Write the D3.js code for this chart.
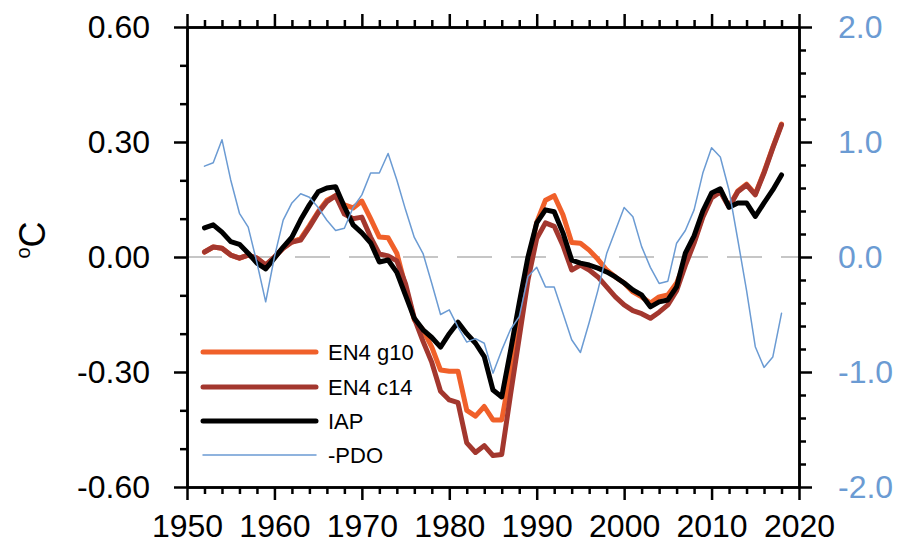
<!DOCTYPE html>
<html><head><meta charset="utf-8">
<script src="https://cdn.jsdelivr.net/npm/d3@7"></script>
<style>body{margin:0;background:#fff}svg{display:block}</style>
</head><body><svg id="c" width="897" height="548"></svg>
<script>
const years = [1952,1953,1954,1955,1956,1957,1958,1959,1960,1961,1962,1963,1964,1965,1966,1967,1968,1969,1970,1971,1972,1973,1974,1975,1976,1977,1978,1979,1980,1981,1982,1983,1984,1985,1986,1987,1988,1989,1990,1991,1992,1993,1994,1995,1996,1997,1998,1999,2000,2001,2002,2003,2004,2005,2006,2007,2008,2009,2010,2011,2012,2013,2014,2015,2016,2017,2018];
const en4g10 = [0.013,0.026,0.023,0.005,-0.003,0.005,-0.003,-0.021,0.0,0.023,0.039,0.048,0.082,0.118,0.148,0.160,0.136,0.128,0.146,0.100,0.052,0.050,0.010,-0.078,-0.164,-0.190,-0.235,-0.295,-0.298,-0.298,-0.400,-0.415,-0.390,-0.425,-0.425,-0.300,-0.160,-0.020,0.090,0.148,0.160,0.110,0.038,0.036,0.018,-0.006,-0.034,-0.052,-0.068,-0.091,-0.104,-0.120,-0.104,-0.099,-0.068,-0.010,0.040,0.108,0.158,0.172,0.132,0.172,0.190,0.164,0.222,0.286,0.347];
const en4c14 = [0.013,0.026,0.023,0.005,-0.003,0.005,-0.003,-0.021,0.0,0.023,0.039,0.044,0.078,0.115,0.144,0.160,0.112,0.100,0.104,0.052,0.008,0.003,-0.010,-0.070,-0.160,-0.220,-0.275,-0.350,-0.373,-0.380,-0.485,-0.510,-0.492,-0.518,-0.515,-0.360,-0.210,-0.060,0.048,0.089,0.080,0.030,-0.034,-0.021,-0.034,-0.052,-0.078,-0.104,-0.125,-0.140,-0.148,-0.160,-0.144,-0.125,-0.088,-0.022,0.036,0.104,0.154,0.170,0.130,0.170,0.188,0.162,0.219,0.284,0.345];
const iap = [0.076,0.084,0.065,0.040,0.033,0.010,-0.016,-0.031,-0.003,0.026,0.052,0.097,0.136,0.170,0.180,0.183,0.131,0.084,0.063,0.037,-0.013,-0.008,-0.040,-0.100,-0.160,-0.190,-0.210,-0.235,-0.200,-0.170,-0.200,-0.225,-0.260,-0.347,-0.365,-0.245,-0.120,0.000,0.089,0.123,0.118,0.063,-0.008,-0.016,-0.021,-0.029,-0.039,-0.052,-0.068,-0.086,-0.099,-0.130,-0.117,-0.112,-0.078,0.010,0.055,0.120,0.167,0.178,0.130,0.141,0.141,0.106,0.141,0.175,0.214];
const negPDO = [0.79,0.82,1.02,0.67,0.38,0.26,-0.05,-0.39,0.00,0.32,0.47,0.55,0.52,0.43,0.32,0.23,0.25,0.43,0.54,0.73,0.73,0.90,0.67,0.41,0.17,0.03,-0.23,-0.50,-0.46,-0.61,-0.74,-0.71,-0.75,-1.01,-0.81,-0.63,-0.52,-0.17,-0.09,-0.26,-0.26,-0.49,-0.72,-0.83,-0.57,-0.29,0.03,0.23,0.43,0.35,0.09,-0.09,-0.23,-0.21,0.12,0.23,0.41,0.73,0.95,0.87,0.58,0.15,-0.29,-0.78,-0.96,-0.87,-0.49];
const xTicks = [1950,1960,1970,1980,1990,2000,2010,2020];
const xMinorTicks = [1952,1954,1956,1958,1962,1964,1966,1968,1972,1974,1976,1978,1982,1984,1986,1988,1992,1994,1996,1998,2002,2004,2006,2008,2012,2014,2016,2018];
const yLeftTicks = [-0.6,-0.3,0,0.3,0.6];
const yLeftMinor = [-0.5,-0.4,-0.2,-0.1,0.1,0.2,0.4,0.5];
const yRightTicks = [-2,-1,0,1,2];
const yRightMinor = [-1.8,-1.6,-1.4,-1.2,-0.8,-0.6,-0.4,-0.2,0.2,0.4,0.6,0.8,1.2,1.4,1.6,1.8];
const legendLabels = ["EN4 g10","EN4 c14","IAP","-PDO"];

const FONT = "'Liberation Sans', Arial, Helvetica, sans-serif";
const cOrange = "#f0602a", cBrown = "#a3372e", cBlack = "#000000", cBlue = "#6b9bd3";
const L = 187, R = 799, T = 27, B = 487;
const svg = d3.select("#c");
const x = d3.scaleLinear().domain([1950, 2020]).range([L, R]);
const y = d3.scaleLinear().domain([-0.6, 0.6]).range([B, T]);
const y2 = d3.scaleLinear().domain([-2, 2]).range([B, T]);

svg.append("line").attr("x1", L).attr("x2", R).attr("y1", y(0)).attr("y2", y(0))
  .attr("stroke", "#b4b4b4").attr("stroke-width", 1.6).attr("stroke-dasharray", "35,19");

const line = d3.line().x((d, i) => x(years[i])).y(d => y(d));
const line2 = d3.line().x((d, i) => x(years[i])).y(d => y2(d));
const series = [
  {v: en4g10, c: cOrange, w: 5, ln: line},
  {v: en4c14, c: cBrown, w: 5, ln: line},
  {v: iap, c: cBlack, w: 5, ln: line},
  {v: negPDO, c: cBlue, w: 1.5, ln: line2}
];
series.forEach(s => {
  svg.append("path").attr("d", s.ln(s.v)).attr("fill", "none")
    .attr("stroke", s.c).attr("stroke-width", s.w)
    .attr("stroke-linejoin", "round").attr("stroke-linecap", "round");
});

function styleAxis(g, color) {
  g.selectAll(".domain").attr("stroke", "#000").attr("stroke-width", 2.5);
  g.selectAll(".tick line").attr("stroke", "#000").attr("stroke-width", 2.5);
  g.selectAll("text").attr("font-family", FONT).attr("font-size", 32).attr("fill", color || "#000");
}
const fmt2 = d => d.toFixed(2);
const fmt1 = d => d.toFixed(1);

let g = svg.append("g").attr("transform", `translate(0,${B})`)
  .call(d3.axisBottom(x).tickValues(xTicks).tickSize(13).tickSizeOuter(0).tickPadding(14).tickFormat(d3.format("d")));
styleAxis(g);
g = svg.append("g").attr("transform", `translate(0,${B})`)
  .call(d3.axisBottom(x).tickValues(xMinorTicks).tickSize(7).tickSizeOuter(0).tickFormat(""));
styleAxis(g);
g = svg.append("g").attr("transform", `translate(0,${T})`)
  .call(d3.axisTop(x).tickValues(xTicks).tickSize(13).tickSizeOuter(0).tickFormat(""));
styleAxis(g);
g = svg.append("g").attr("transform", `translate(0,${T})`)
  .call(d3.axisTop(x).tickValues(xMinorTicks).tickSize(7).tickSizeOuter(0).tickFormat(""));
styleAxis(g);
g = svg.append("g").attr("transform", `translate(${L},0)`)
  .call(d3.axisLeft(y).tickValues(yLeftTicks).tickSize(13).tickSizeOuter(0).tickPadding(24).tickFormat(fmt2));
styleAxis(g);
g = svg.append("g").attr("transform", `translate(${L},0)`)
  .call(d3.axisLeft(y).tickValues(yLeftMinor).tickSize(7).tickSizeOuter(0).tickFormat(""));
styleAxis(g);
g = svg.append("g").attr("transform", `translate(${R},0)`)
  .call(d3.axisRight(y2).tickValues(yRightTicks).tickSize(13).tickSizeOuter(0).tickPadding(26).tickFormat(fmt1));
styleAxis(g, cBlue);
g = svg.append("g").attr("transform", `translate(${R},0)`)
  .call(d3.axisRight(y2).tickValues(yRightMinor).tickSize(7).tickSizeOuter(0).tickFormat(""));
styleAxis(g);

const yl = svg.append("text").attr("transform", "translate(45,240) rotate(-90)")
  .attr("text-anchor", "middle").attr("font-family", FONT).attr("font-size", 36).attr("fill", "#000");
yl.append("tspan").text("o").attr("font-size", 20).attr("dy", -15);
yl.append("tspan").text("C").attr("dy", 15);

const legY = [352, 387, 421, 455];
legendLabels.forEach((lab, i) => {
  const s = series[i];
  svg.append("line").attr("x1", 203).attr("x2", 316).attr("y1", legY[i]).attr("y2", legY[i])
    .attr("stroke", s.c).attr("stroke-width", s.w).attr("stroke-linecap", "round");
  svg.append("text").attr("x", 328).attr("y", legY[i]).attr("dy", "0.36em")
    .attr("font-family", FONT).attr("font-size", 22).attr("fill", "#000").text(lab);
});
</script></body></html>
